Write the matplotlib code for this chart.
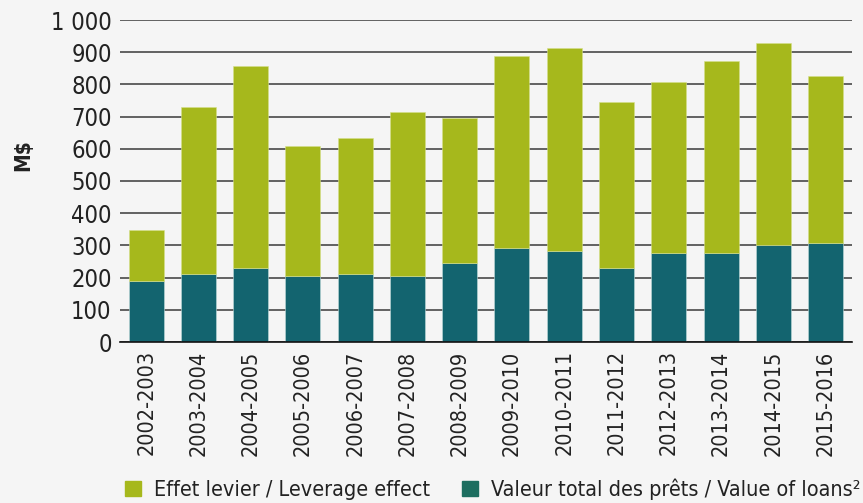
import matplotlib
matplotlib.use("Agg")
import matplotlib.pyplot as plt
from matplotlib.ticker import FuncFormatter, MultipleLocator
from matplotlib.patches import Patch

categories = ["2002-2003", "2003-2004", "2004-2005", "2005-2006", "2006-2007",
              "2007-2008", "2008-2009", "2009-2010", "2010-2011", "2011-2012",
              "2012-2013", "2013-2014", "2014-2015", "2015-2016"]
loans = [189, 212, 229, 204, 212, 204, 245, 292, 284, 229, 277, 277, 301, 308]
totals = [347, 729, 856, 609, 634, 713, 697, 888, 912, 745, 809, 872, 928, 825]
leverage = [t - l for t, l in zip(totals, loans)]

label_leverage = "Effet levier / Leverage effect"
label_loans = "Valeur total des prêts / Value of loans²"
y_label = "M$"

bg = "#F5F5F5"
green = "#A6B81C"
teal = "#13646F"
teal_legend = "#1D6E60"

plt.rcParams["font.family"] = ["DejaVu Sans"]
plt.rcParams["font.stretch"] = "condensed"

fig = plt.figure(figsize=(8.63, 5.03), dpi=100, facecolor=bg)
ax = fig.add_axes([120 / 863, 1 - 342 / 503, (851.7 - 120) / 863, (342 - 20) / 503])
ax.set_facecolor(bg)

x = list(range(len(categories)))
w = 0.67
ax.bar(x, loans, width=w, color=teal, zorder=3, edgecolor="#BFD9D9", linewidth=0.4)
ax.bar(x, leverage, bottom=loans, width=w, color=green, zorder=3,
       edgecolor="#D5E08A", linewidth=0.4)

ax.set_ylim(0, 1000)
ax.set_xlim(-0.5, len(categories) - 0.5)
ax.yaxis.set_major_locator(MultipleLocator(100))
ax.yaxis.set_major_formatter(FuncFormatter(lambda v, p: f"{int(v):,}".replace(",", " ")))
ax.grid(axis="y", color="#3a3a3a", linewidth=1.1, zorder=0)
ax.set_axisbelow(True)
for s in ["top", "right", "left"]:
    ax.spines[s].set_visible(False)
ax.spines["bottom"].set_color("#111111")
ax.spines["bottom"].set_linewidth(1.2)
ax.spines["bottom"].set_zorder(4)
ax.tick_params(axis="both", length=0, colors="#222222")
ax.tick_params(axis="y", labelsize=17, pad=6)
ax.set_xticks(x)
ax.set_xticklabels(categories, rotation=90, fontsize=15.5)
ax.tick_params(axis="x", pad=6)

fig.text(23 / 863, 1 - 155 / 503, y_label, rotation=90, fontsize=15, fontweight="bold",
         ha="center", va="center", color="#222222")

handles = [Patch(color=green, label=label_leverage), Patch(color=teal_legend, label=label_loans)]
leg = fig.legend(handles=handles, loc="center", bbox_to_anchor=(0.571, 0.027),
                 ncol=2, frameon=False, fontsize=15.5, handlelength=0.72, handleheight=0.72,
                 columnspacing=1.5, handletextpad=0.6)
for t in leg.get_texts():
    t.set_color("#222222")

fig.savefig("out.png", dpi=100, facecolor=bg)
